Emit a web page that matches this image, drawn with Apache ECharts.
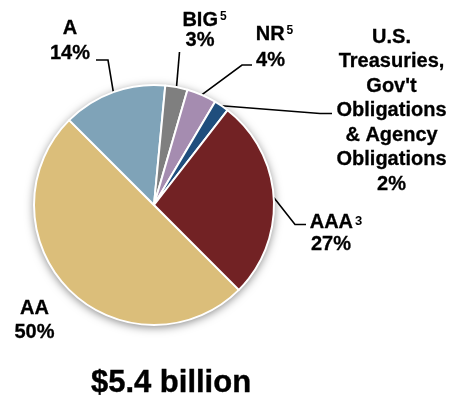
<!DOCTYPE html>
<html>
<head>
<meta charset="utf-8">
<script src="https://cdn.jsdelivr.net/npm/echarts@6/dist/echarts.min.js"></script>
<style>
  html, body { margin: 0; padding: 0; background: #fff; }
  #chart { width: 454px; height: 401px; }
</style>
</head>
<body>
<div id="chart"></div>
<script>
// Portfolio mix by credit rating (share of $5.4 billion)
const categories = ['AA', 'A', 'BIG', 'NR', "U.S.\nTreasuries,\nGov't\nObligations\n& Agency\nObligations", 'AAA'];
const footnotes = ['', '', '5', '5', '', '3'];
const shares = [50, 14, 3, 4, 2, 27];
const sliceColors = ['#DBBE7A', '#7FA3B8', '#7F7F7F', '#A58CB0', '#1F4E7D', '#722224'];
const totalLabel = '$5.4 billion';

const FONT = "'Liberation Sans', Arial, Helvetica, sans-serif";
const CENTER = [154, 205];
const RADIUS = 120;

// label placement: text centre x, cap top y, line height, leader elbow/end
const labelPlacement = [
  { x: 34.5, capTop: 301.7, lh: 24, line: null, pb: 0, supW: 0, supSize: 12 },
  { x: 70, capTop: 21.7, lh: 25, line: [[108, 60], [96, 60]], pb: 0, supW: 0, supSize: 12 },
  { x: 200, capTop: 13.3, lh: 20, line: [[179.5, 52], [179.5, 52]], pb: 7, supW: 9, supSize: 12 },
  { x: 270.5, capTop: 27, lh: 26, line: [[242, 65], [252, 65]], pb: 7, supW: 8, supSize: 12 },
  { x: 391.5, capTop: 30, lh: 24.5, line: [[320, 113.5], [332, 113.5]], pb: 0, supW: 0, supSize: 12 },
  { x: 331, capTop: 215, lh: 22, line: [[295, 224.5], [306, 224.5]], pb: 2, supW: 10, supSize: 13 }
];

function richFor(i) {
  const p = labelPlacement[i];
  const base = {
    fontFamily: FONT, fontWeight: 'bold', fontSize: 20, color: '#000', lineHeight: p.lh,
    textBorderColor: '#000', textBorderWidth: 0.3
  };
  return {
    n: base,
    h: Object.assign({}, base, { padding: [0, 0, 0, p.supW] }),
    sup: { fontFamily: FONT, fontWeight: 'bold', fontSize: p.supSize, color: '#000', lineHeight: p.lh,
           padding: [0, 0, p.pb, 2] }
  };
}

function labelText(p) {
  const i = p.dataIndex;
  const lines = categories[i].split('\n');
  const out = lines.map(function (s, k) {
    if (k === 0 && footnotes[i]) return '{h|' + s + '}{sup|' + footnotes[i] + '}';
    return '{n|' + s + '}';
  });
  out.push('{n|' + p.value + '%}');
  return out.join('\n');
}

const pieData = categories.map(function (name, i) {
  return {
    name: name,
    value: shares[i],
    itemStyle: { color: sliceColors[i] },
    label: { rich: richFor(i) },
    labelLine: { show: !!labelPlacement[i].line }
  };
});

const chart = echarts.init(document.getElementById('chart'), null, { renderer: 'canvas' });

chart.setOption({
  backgroundColor: '#ffffff',
  animation: false,
  series: [
    {
      // soft shadow disc behind the pie
      type: 'pie',
      silent: true,
      center: CENTER,
      radius: RADIUS,
      z: 1,
      label: { show: false },
      labelLine: { show: false },
      itemStyle: {
        color: '#ffffff',
        shadowBlur: 10,
        shadowColor: 'rgba(0,0,0,0.5)',
        shadowOffsetX: 0,
        shadowOffsetY: 2
      },
      data: [1]
    },
    {
      type: 'pie',
      center: CENTER,
      radius: RADIUS,
      startAngle: -45,
      clockwise: true,
      z: 2,
      avoidLabelOverlap: false,
      itemStyle: { borderColor: '#ffffff', borderWidth: 2 },
      label: {
        show: true,
        position: 'outside',
        formatter: labelText,
        color: '#000'
      },
      labelLine: {
        show: true,
        smooth: false,
        lineStyle: { color: '#000', width: 1.6 }
      },
      labelLayout: function (params) {
        const p = labelPlacement[params.dataIndex];
        const res = {
          x: p.x,
          y: p.capTop + 7 - p.lh / 2,
          align: 'center',
          verticalAlign: 'top'
        };
        if (p.line && params.labelLinePoints) {
          res.labelLinePoints = [params.labelLinePoints[0], p.line[0], p.line[1]];
        }
        return res;
      },
      data: pieData
    }
  ],
  graphic: [
    {
      type: 'text',
      x: 171,
      y: 383,
      style: {
        text: totalLabel,
        font: 'bold 31px ' + FONT,
        fill: '#000',
        stroke: '#000',
        lineWidth: 0.4,
        textAlign: 'center',
        textVerticalAlign: 'middle'
      }
    }
  ]
});
</script>
</body>
</html>
